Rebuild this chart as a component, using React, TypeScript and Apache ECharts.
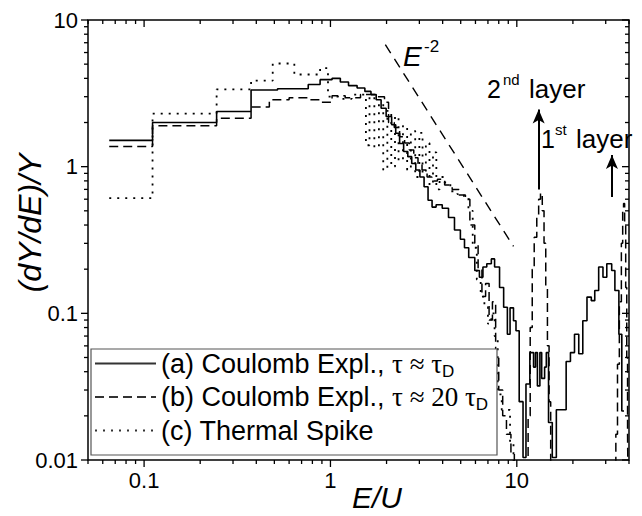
import React, { useEffect, useRef } from 'react';
import * as echarts from 'echarts';

const X_MIN = 0.05;
const X_MAX = 40;
const Y_MIN = 0.01;
const Y_MAX = 10;

const xTickValues = [0.1, 1, 10];
const xTickLabels = ['0.1', '1', '10'];
const yTickValues = [0.01, 0.1, 1, 10];
const yTickLabels = ['0.01', '0.1', '1', '10'];
const tickDecades = [0.01, 0.1, 1, 10];
const minorMultipliers = [2, 3, 4, 5, 6, 7, 8, 9];

const seriesNames = [
  '(a) Coulomb Expl., τ ≈ τD',
  '(b) Coulomb Expl., τ ≈ 20 τD',
  '(c) Thermal Spike',
];
const legendRich = [
  '{t|(a) Coulomb Expl., }{g|τ ≈ τ}{s|D}',
  '{t|(b) Coulomb Expl., }{g|τ ≈ 20 τ}{s|D}',
  '{t|(c) Thermal Spike}',
];

// (a) Coulomb explosion, tau ~ tau_D  [bin left edge E/U, (dY/dE)/Y]
const coulombA = [
  [0.065, 1.51], [0.111, 2.0], [0.245, 2.38], [0.375, 3.33], [0.52, 3.4], [0.76, 3.63],
  [0.88, 3.92], [1.02, 4.0], [1.13, 3.78], [1.25, 3.57], [1.39, 3.44], [1.53, 3.26],
  [1.65, 3.1], [1.76, 2.86], [1.87, 2.5], [1.99, 2.2], [2.13, 1.93], [2.24, 1.69],
  [2.35, 1.44], [2.47, 1.27], [2.6, 1.17], [2.73, 1.05], [2.87, 0.95], [3.02, 0.85],
  [3.18, 0.73], [3.34, 0.59], [3.51, 0.53], [3.69, 0.55], [3.98, 0.52], [4.3, 0.45],
  [4.63, 0.37], [4.98, 0.32], [5.24, 0.28], [5.52, 0.24], [5.95, 0.196], [6.3, 0.176],
  [6.58, 0.207], [6.9, 0.218], [7.3, 0.235], [7.6, 0.207], [8.08, 0.15], [8.5, 0.11],
  [8.9, 0.072], [9.2, 0.109], [9.6, 0.089], [9.9, 0.076], [10.3, 0.025], [10.8, 0.0104],
  [11.2, 0.033], [11.75, 0.054], [12.3, 0.043], [12.6, 0.054], [12.9, 0.032], [13.3, 0.054],
  [13.6, 0.036], [14.1, 0.043], [14.4, 0.054], [14.8, 0.018], [15.5, 0.0104], [16.3, 0.022],
  [17.3, 0.022], [18.4, 0.047], [19.4, 0.054], [20.4, 0.072], [21.5, 0.053], [22.6, 0.089],
  [23.8, 0.129], [25.1, 0.122], [26.2, 0.143], [27.5, 0.207], [29.0, 0.176], [30.4, 0.218],
  [32.3, 0.196], [33.6, 0.143], [35.3, 0.072], [36.6, 0.0216], [37.6, 0.0216],
];

// (b) Coulomb explosion, tau ~ 20 tau_D
const coulombB = [
  [0.065, 1.37], [0.111, 1.9], [0.245, 2.14], [0.375, 2.55], [0.47, 2.86], [0.6, 2.95],
  [0.76, 2.86], [0.88, 2.75], [1.02, 3.05], [1.2, 2.95], [1.45, 3.1], [1.78, 3.0],
  [1.95, 2.75], [2.05, 2.0], [2.2, 1.85], [2.35, 1.6], [2.5, 1.45], [2.65, 1.3],
  [2.8, 1.15], [2.95, 1.05], [3.1, 0.95], [3.3, 0.85], [3.5, 0.8], [3.75, 0.82],
  [4.1, 0.75], [4.5, 0.7], [4.9, 0.64], [5.3, 0.6], [5.6, 0.4], [5.95, 0.3],
  [6.2, 0.2], [6.5, 0.13], [6.8, 0.16], [7.1, 0.09], [7.4, 0.12], [7.7, 0.05],
  [8.0, 0.03], [8.4, 0.02], [8.8, 0.015], [9.3, 0.011], [9.7, 0.005], [11.2, 0.005],
  [11.5, 0.02], [11.8, 0.08], [12.1, 0.2], [12.4, 0.33], [12.8, 0.45], [13.1, 0.6],
  [13.4, 0.66], [13.7, 0.5], [14.0, 0.3], [14.3, 0.15], [14.6, 0.06], [14.9, 0.025],
  [15.2, 0.005], [33.5, 0.005], [34.0, 0.015], [34.7, 0.045], [35.5, 0.12], [36.4, 0.3],
  [37.0, 0.5], [37.4, 0.56], [37.9, 0.42], [38.4, 0.15], [38.9, 0.05], [39.3, 0.015],
  [39.6, 0.005], [40, 0.005],
];

// (c) Thermal spike
const thermalC = [
  [0.065, 0.61], [0.111, 2.3], [0.245, 3.37], [0.375, 3.86], [0.49, 5.05], [0.64, 4.25],
  [0.88, 4.7], [0.97, 3.0], [1.1, 2.9], [1.3, 3.1], [1.55, 1.4], [1.62, 3.0],
  [1.72, 1.35], [1.82, 2.7], [1.92, 0.95], [2.02, 2.4], [2.12, 1.0], [2.22, 2.2],
  [2.32, 1.1], [2.45, 1.9], [2.58, 0.95], [2.7, 1.75], [2.85, 0.85], [3.0, 1.7],
  [3.12, 0.9], [3.25, 1.45], [3.4, 0.75], [3.55, 1.25], [3.7, 0.7], [3.85, 0.85],
  [4.1, 0.78], [4.4, 0.68], [4.8, 0.65], [5.2, 0.62], [5.5, 0.5], [5.8, 0.28],
  [6.1, 0.17], [6.4, 0.13], [6.7, 0.11], [7.0, 0.085], [7.3, 0.1], [7.6, 0.07],
  [7.9, 0.028], [8.3, 0.022], [8.8, 0.022], [9.2, 0.013], [9.6, 0.005], [10, 0.005],
];

// E^-2 guide line end points
const powerLaw = [[1.97, 6.8], [9.6, 0.286]];

// layer arrows [E/U, from, to]
const layerArrows = [[13.1, 0.7, 2.45], [32.4, 0.62, 1.2]];

const SANS = "'Liberation Sans', Arial, Helvetica, sans-serif";
const SERIF = "'Liberation Serif', 'Times New Roman', serif";

function near(a: number, b: number) {
  return Math.abs(Math.log10(a) - Math.log10(b)) < 1e-6;
}

function buildTicks() {
  const items: number[][] = [];
  tickDecades.forEach((d) => {
    minorMultipliers.forEach((m) => {
      const v = +(m * d).toPrecision(6);
      if (v >= X_MIN - 1e-9 && v <= X_MAX + 1e-9) items.push([v, 1, 0, 0]);
      if (v >= Y_MIN - 1e-9 && v <= Y_MAX + 1e-9) items.push([1, v, 0, 1]);
    });
  });
  xTickValues.forEach((v) => items.push([v, 1, 1, 0]));
  yTickValues.forEach((v) => items.push([1, v, 1, 1]));
  return items;
}

export default function App() {
  const ref = useRef<HTMLDivElement>(null);
  useEffect(() => {
    if (!ref.current) return;
    const chart = echarts.init(ref.current, undefined, { renderer: 'svg' });
    const tickStyle = { stroke: '#000', lineWidth: 1.3 };
    const option: any = {
      animation: false,
      backgroundColor: '#fff',
      grid: {
        left: 88, top: 20, right: 13, bottom: 56, containLabel: false,
        show: true, borderColor: '#000', borderWidth: 1.5, backgroundColor: 'transparent',
      },
      xAxis: {
        type: 'log', logBase: 10, min: X_MIN, max: X_MAX,
        axisLine: { show: false }, axisTick: { show: false }, splitLine: { show: false },
        axisLabel: {
          fontSize: 22, color: '#000', fontFamily: SANS, margin: 9,
          formatter: (v: number) => {
            const i = xTickValues.findIndex((t) => near(v, t));
            return i >= 0 ? xTickLabels[i] : '';
          },
        },
      },
      yAxis: {
        type: 'log', logBase: 10, min: Y_MIN, max: Y_MAX,
        axisLine: { show: false }, axisTick: { show: false }, splitLine: { show: false },
        axisLabel: {
          fontSize: 22, color: '#000', fontFamily: SANS, margin: 10,
          formatter: (v: number) => {
            const i = yTickValues.findIndex((t) => near(v, t));
            return i >= 0 ? yTickLabels[i] : '';
          },
        },
      },
      legend: {
        data: seriesNames, orient: 'vertical', left: 94, top: 350, padding: 0,
        itemGap: 4, itemWidth: 61, itemHeight: 14, itemTextGap: 9, selectedMode: false,
        itemStyle: { opacity: 0, borderWidth: 0 },
        lineStyle: { color: '#333' },
        formatter: (name: string) => legendRich[seriesNames.indexOf(name)],
        textStyle: {
          color: '#000', fontFamily: SANS, fontSize: 27,
          rich: {
            t: { fontFamily: SANS, fontSize: 27, lineHeight: 32, color: '#000' },
            g: { fontFamily: SERIF, fontSize: 27, lineHeight: 32, color: '#000' },
            s: { fontFamily: SANS, fontSize: 17, lineHeight: 14, verticalAlign: 'bottom', color: '#000' },
          },
        },
        z: 6,
      },
      graphic: [
        { type: 'rect', z: 5, shape: { x: 91, y: 349, width: 406, height: 106 },
          style: { fill: '#fff', stroke: '#555', lineWidth: 1.2 } },
        { type: 'text', x: 30, y: 223, rotation: Math.PI / 2,
          style: { text: '(dY/dE)/Y', font: `italic 32px ${SANS}`, fill: '#000', align: 'center', verticalAlign: 'middle' } },
        { type: 'text', x: 377, y: 497,
          style: { text: 'E/U', font: `italic 30px ${SANS}`, fill: '#000', align: 'center', verticalAlign: 'middle' } },
        { type: 'text', x: 403, y: 56,
          style: { text: 'E', font: `italic 28px ${SANS}`, fill: '#000', align: 'left', verticalAlign: 'middle' } },
        { type: 'text', x: 424, y: 46,
          style: { text: '-2', font: `17px ${SANS}`, fill: '#000', align: 'left', verticalAlign: 'middle' } },
        { type: 'text', x: 487, y: 89,
          style: { text: '2', font: `25px ${SANS}`, fill: '#000', align: 'left', verticalAlign: 'middle' } },
        { type: 'text', x: 503, y: 79,
          style: { text: 'nd', font: `15px ${SANS}`, fill: '#000', align: 'left', verticalAlign: 'middle' } },
        { type: 'text', x: 529, y: 89,
          style: { text: 'layer', font: `26px ${SANS}`, fill: '#000', align: 'left', verticalAlign: 'middle' } },
        { type: 'text', x: 541, y: 139,
          style: { text: '1', font: `25px ${SANS}`, fill: '#000', align: 'left', verticalAlign: 'middle' } },
        { type: 'text', x: 555, y: 129,
          style: { text: 'st', font: `15px ${SANS}`, fill: '#000', align: 'left', verticalAlign: 'middle' } },
        { type: 'text', x: 576, y: 139,
          style: { text: 'layer', font: `26px ${SANS}`, fill: '#000', align: 'left', verticalAlign: 'middle' } },
      ],
      series: [
        {
          name: seriesNames[0], type: 'line', step: 'end', data: coulombA, symbol: 'none', showSymbol: false,
          color: '#000', lineStyle: { color: '#000', width: 1.6, type: 'solid' }, clip: true, z: 3,
        },
        {
          name: seriesNames[1], type: 'line', step: 'end', data: coulombB, symbol: 'none', showSymbol: false,
          color: '#000', lineStyle: { color: '#000', width: 1.5, type: [9, 5] }, clip: true, z: 3,
        },
        {
          name: seriesNames[2], type: 'line', step: 'end', data: thermalC, symbol: 'none', showSymbol: false,
          color: '#000', lineStyle: { color: '#000', width: 1.8, type: [2, 6] }, clip: true, z: 3,
        },
        {
          name: 'E^-2', type: 'line', data: powerLaw, symbol: 'none', showSymbol: false,
          color: '#000', lineStyle: { color: '#000', width: 1.4, type: [10, 7] }, clip: true, z: 3,
          markLine: {
            silent: true, symbol: ['none', 'arrow'], symbolSize: [9, 14], label: { show: false },
            lineStyle: { color: '#000', width: 2, type: 'solid' },
            data: layerArrows.map((a) => [{ coord: [a[0], a[1]] }, { coord: [a[0], a[2]] }]),
          },
        },
        {
          name: 'ticks', type: 'custom', silent: true, z: 4, clip: false,
          data: buildTicks(),
          renderItem: (_p: any, api: any) => {
            const xv = api.value(0);
            const yv = api.value(1);
            const major = api.value(2) === 1;
            const axis = api.value(3);
            const len = major ? 7 : 4;
            if (axis === 0) {
              const pb = api.coord([xv, Y_MIN]);
              const pt = api.coord([xv, Y_MAX]);
              return {
                type: 'group', children: [
                  { type: 'line', shape: { x1: pb[0], y1: pb[1], x2: pb[0], y2: pb[1] + len }, style: tickStyle },
                  { type: 'line', shape: { x1: pt[0], y1: pt[1], x2: pt[0], y2: pt[1] + len }, style: tickStyle },
                ],
              };
            }
            const pl = api.coord([X_MIN, yv]);
            const pr = api.coord([X_MAX, yv]);
            return {
              type: 'group', children: [
                { type: 'line', shape: { x1: pl[0] - len, y1: pl[1], x2: pl[0], y2: pl[1] }, style: tickStyle },
                { type: 'line', shape: { x1: pr[0] - len, y1: pr[1], x2: pr[0], y2: pr[1] }, style: tickStyle },
              ],
            };
          },
        },
      ],
    };
    chart.setOption(option);
    return () => chart.dispose();
  }, []);
  return (
    <div
      ref={ref}
      style={{ position: 'absolute', left: 0, top: 0, width: 642, height: 516, background: '#fff' }}
    />
  );
}
